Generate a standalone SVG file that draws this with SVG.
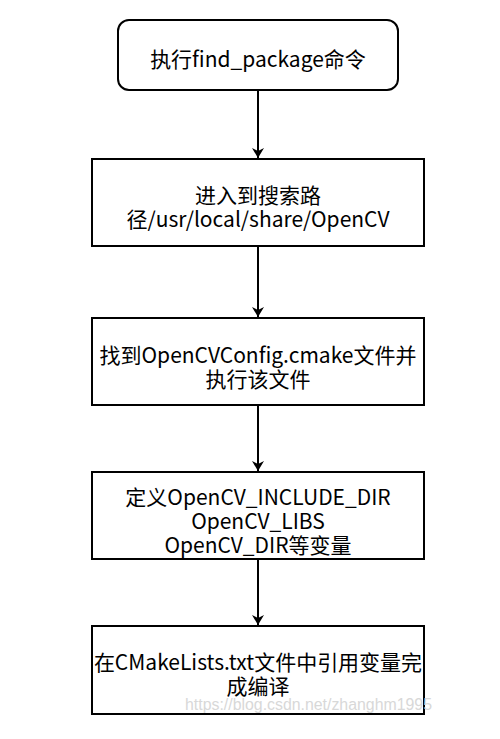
<svg xmlns="http://www.w3.org/2000/svg" width="500" height="739" viewBox="0 0 500 739">
<style>
.box{fill:#fff;stroke:#000;stroke-width:2}
.t{font-family:"Noto Sans CJK SC","Noto Sans",sans-serif;font-size:21px;fill:#000;text-anchor:middle}
.c{stroke:#000;stroke-width:2;fill:none}
</style>
<defs>
<marker id="arr" viewBox="0 0 10 12" refX="10" refY="6" markerWidth="10" markerHeight="12" markerUnits="userSpaceOnUse" orient="auto">
<path d="M0,0 L10,6 L0,12 L3,6 Z" fill="#000"/>
</marker>
</defs>
<rect width="500" height="739" fill="#fff"/>
<g id="connectors">
<line class="c" x1="258" y1="90" x2="258" y2="158" marker-end="url(#arr)"/>
<line class="c" x1="258" y1="246" x2="258" y2="317" marker-end="url(#arr)"/>
<line class="c" x1="258" y1="405" x2="258" y2="471" marker-end="url(#arr)"/>
<line class="c" x1="258" y1="559" x2="258" y2="625" marker-end="url(#arr)"/>
</g>
<g id="n1">
<rect class="box" x="118" y="20" width="280" height="70" rx="11"/>
<text class="t" x="258" y="67">执行find_package命令</text>
</g>
<g id="n2">
<rect class="box" x="92" y="159" width="332" height="87"/>
<text class="t" x="258" y="203">进入到搜索路</text>
<text class="t" x="258" y="227">径/usr/local/share/OpenCV</text>
</g>
<g id="n3">
<rect class="box" x="92" y="318" width="332" height="87"/>
<text class="t" x="258" y="363">找到OpenCVConfig.cmake文件并</text>
<text class="t" x="258" y="387">执行该文件</text>
</g>
<g id="n4">
<rect class="box" x="92" y="472" width="332" height="87"/>
<text class="t" x="258" y="505">定义OpenCV_INCLUDE_DIR</text>
<text class="t" x="258" y="529">OpenCV_LIBS</text>
<text class="t" x="258" y="553">OpenCV_DIR等变量</text>
</g>
<g id="n5">
<rect class="box" x="92" y="626" width="332" height="88"/>
<text class="t" x="258" y="670">在CMakeLists.txt文件中引用变量完</text>
<text class="t" x="258" y="694">成编译</text>
</g>
<text x="185" y="710" font-family="Liberation Sans, Arial, sans-serif" font-size="16" fill="#d8d8d8" textLength="247" lengthAdjust="spacingAndGlyphs">https://blog.csdn.net/zhanghm1995</text>
</svg>
